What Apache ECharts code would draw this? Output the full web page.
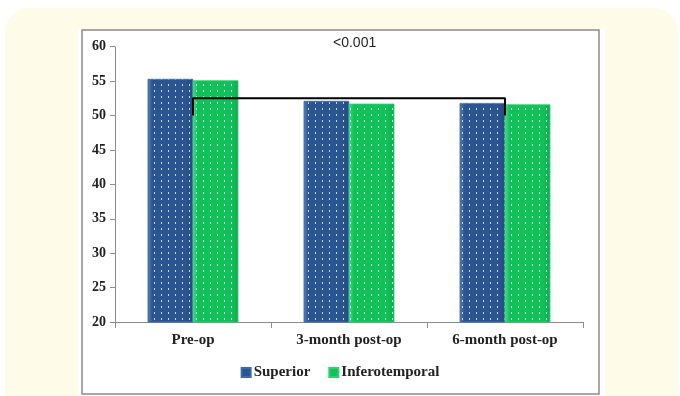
<!DOCTYPE html>
<html>
<head>
<meta charset="utf-8">
<script src="https://cdn.jsdelivr.net/npm/echarts@6/dist/echarts.min.js"></script>
<style>
html,body{margin:0;padding:0;background:#ffffff;}
#c{width:680px;height:396px;}
</style>
</head>
<body>
<div id="c"></div>
<script>
var categories = ['Pre-op', '3-month post-op', '6-month post-op'];
var superior = [55.3, 52.1, 51.8];
var inferotemporal = [55.1, 51.7, 51.6];
var yTicks = {min: 20, max: 60, interval: 5};
var bracketPoints = [[0, 50], [0, 52.5], [2, 52.5], [2, 50]];
var pLabel = '<0.001';

var chart = echarts.init(document.getElementById('c'), null, {renderer: 'canvas'});

function grad(edge, mid, dark) {
  return new echarts.graphic.LinearGradient(0, 0, 1, 0, [
    {offset: 0, color: edge},
    {offset: 0.1, color: mid},
    {offset: 0.85, color: mid},
    {offset: 1, color: dark}
  ]);
}
var dots = {
  symbol: 'rect',
  symbolSize: 1,
  color: 'rgba(255,255,255,0.75)',
  dashArrayX: [1, 6],
  dashArrayY: [2, 4]
};

var option = {
  animation: false,
  backgroundColor: '#ffffff',
  graphic: [
    {type: 'rect', z: -10, shape: {x: 5, y: 8, width: 673, height: 420, r: 24}, style: {fill: '#fefbe9'}},
    {type: 'rect', z: -9, shape: {x: 78, y: 29, width: 527, height: 380}, style: {fill: '#ffffff'}},
    {type: 'rect', z: -8, shape: {x: 82, y: 30, width: 517, height: 364}, style: {fill: '#ffffff', stroke: '#8c8c8c', lineWidth: 1.5}},
    {type: 'text', z: 10, left: 333, top: 36, style: {text: pLabel, font: '14px "Liberation Sans", Arial, sans-serif', fill: '#262626'}}
  ],
  grid: {left: 115, right: 97, top: 46.7, bottom: 74, containLabel: false},
  legend: {
    bottom: 11,
    left: 'center',
    itemWidth: 9,
    itemHeight: 9,
    itemGap: 18,
    icon: 'rect',
    itemStyle: {decal: 'none'},
    textStyle: {fontFamily: '"Liberation Serif", "Times New Roman", serif', fontWeight: 'bold', fontSize: 15, color: '#222', padding: [0, 0, 0, -2]},
    data: ['Superior', 'Inferotemporal']
  },
  xAxis: {
    type: 'category',
    data: categories,
    axisLine: {lineStyle: {color: '#8c8c8c', width: 1}},
    axisTick: {show: true, length: 6, lineStyle: {color: '#8c8c8c'}},
    axisLabel: {margin: 11, fontFamily: '"Liberation Serif", "Times New Roman", serif', fontWeight: 'bold', fontSize: 15, color: '#222'}
  },
  yAxis: {
    type: 'value',
    min: yTicks.min,
    max: yTicks.max,
    interval: yTicks.interval,
    axisLine: {show: true, lineStyle: {color: '#8c8c8c', width: 1}},
    axisTick: {show: true, length: 5, lineStyle: {color: '#8c8c8c'}},
    splitLine: {show: false},
    axisLabel: {margin: 9, fontFamily: '"Liberation Serif", "Times New Roman", serif', fontWeight: 'bold', fontSize: 14, color: '#222'}
  },
  series: [
    {
      name: 'Superior',
      type: 'bar',
      data: superior,
      barGap: '0%',
      barCategoryGap: '42%',
      itemStyle: {color: grad('#5582b9', '#2b5590', '#244a80'), borderColor: '#3d6aa3', borderWidth: 0.5, decal: dots}
    },
    {
      name: 'Inferotemporal',
      type: 'bar',
      data: inferotemporal,
      itemStyle: {color: grad('#4adb88', '#12c05a', '#0fa94f'), borderColor: '#2fcf72', borderWidth: 0.5, decal: dots}
    },
    {
      name: 'bracket',
      type: 'line',
      data: bracketPoints,
      symbol: 'none',
      silent: true,
      z: 5,
      lineStyle: {color: '#000000', width: 2},
      legendHoverLink: false
    }
  ]
};
chart.setOption(option);
</script>
</body>
</html>
